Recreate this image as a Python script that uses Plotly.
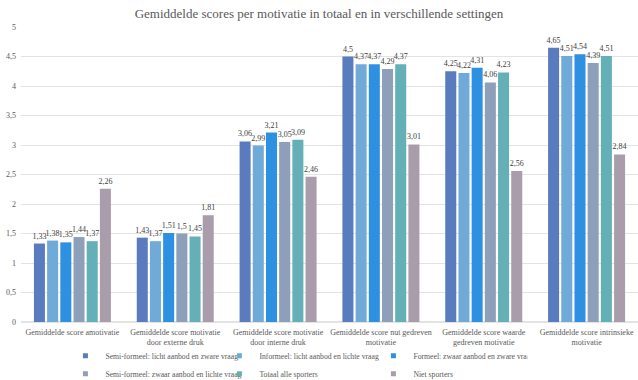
import plotly.graph_objects as go

categories = [
    "Gemiddelde score amotivatie",
    "Gemiddelde score motivatie<br>door externe druk",
    "Gemiddelde score motivatie<br>door interne druk",
    "Gemiddelde score nut gedreven<br>motivatie",
    "Gemiddelde score waarde<br>gedreven motivatie",
    "Gemiddelde score intrinsieke<br>motivatie",
]

series_names = [
    "Semi-formeel: licht aanbod en zware vraag",
    "Informeel: licht aanbod en lichte vraag",
    "Formeel: zwaar aanbod en zware vraag",
    "Semi-formeel: zwaar aanbod en lichte vraag",
    "Totaal alle sporters",
    "Niet sporters",
]

semi_licht_zwaar = [1.33, 1.43, 3.06, 4.5, 4.25, 4.65]
informeel = [1.38, 1.37, 2.99, 4.37, 4.22, 4.51]
formeel = [1.35, 1.51, 3.21, 4.37, 4.31, 4.54]
semi_zwaar_licht = [1.44, 1.5, 3.05, 4.29, 4.06, 4.39]
totaal = [1.37, 1.45, 3.09, 4.37, 4.23, 4.51]
niet_sporters = [2.26, 1.81, 2.46, 3.01, 2.56, 2.84]

series_values = [semi_licht_zwaar, informeel, formeel, semi_zwaar_licht, totaal, niet_sporters]
colors = ["#5a7bbd", "#70aad9", "#2e90e0", "#8e9fb9", "#65afb7", "#a99dab"]

y_ticks = [0, 0.5, 1, 1.5, 2, 2.5, 3, 3.5, 4, 4.5, 5]

FONT = "Liberation Serif"

fig = go.Figure()
for i, (name, vals, col) in enumerate(zip(series_names, series_values, colors)):
    fig.add_trace(go.Bar(
        x=categories, y=vals, name=name,
        marker=dict(color=col, line=dict(width=0)),
        text=[str(v).replace(".", ",") for v in vals],
        textposition="outside",
        constraintext="none",
        cliponaxis=False,
        textfont=dict(family=FONT, size=8, color="#404040"),
        showlegend=False,
    ))

# legend entries (small square swatches like the reference)
for i, (name, col) in enumerate(zip(series_names, colors)):
    fig.add_trace(go.Scatter(
        x=[categories[0]], y=[None], mode="markers", name=name,
        marker=dict(symbol="square", size=5, color=col),
        legend="legend" if i < 3 else "legend2",
        showlegend=True, hoverinfo="skip",
    ))

LEG_FONT = dict(family=FONT, size=7.7, color="#595959")

fig.update_layout(
    width=638, height=380,
    margin=dict(l=21, r=0, t=27, b=58, autoexpand=False),
    paper_bgcolor="white", plot_bgcolor="white",
    barmode="group", bargap=0.23, bargroupgap=0.165,
    title=dict(text="Gemiddelde scores per motivatie in totaal en in verschillende settingen",
               x=0.5, xanchor="center", y=0.965, yanchor="middle",
               font=dict(family=FONT, size=13, color="#595959")),
    font=dict(family=FONT, size=8, color="#595959"),
    xaxis=dict(showgrid=False, ticks="", ticklen=0, showline=False, tickangle=0,
               range=[-0.5, 5.5], ticklabelstandoff=4, automargin=False,
               tickfont=dict(family=FONT, size=8, color="#595959")),
    yaxis=dict(range=[0, 5], tickvals=y_ticks, automargin=False,
               ticktext=[str(t).replace(".", ",") if t % 1 else str(int(t)) for t in y_ticks],
               gridcolor="#e3e3e3", gridwidth=1, zeroline=True, zerolinecolor="#e3e3e3",
               showline=False, ticks="", ticklabelstandoff=4,
               tickfont=dict(family=FONT, size=8, color="#595959")),
    legend=dict(orientation="h", x=0.072, xanchor="left", y=-0.114, yanchor="middle",
                entrywidth=109, itemwidth=30, font=LEG_FONT, bgcolor="rgba(0,0,0,0)"),
    legend2=dict(orientation="h", x=0.072, xanchor="left", y=-0.175, yanchor="middle",
                 entrywidth=109, itemwidth=30, font=LEG_FONT, bgcolor="rgba(0,0,0,0)"),
    showlegend=True,
)

fig.write_html("out.html", config={"displayModeBar": False},
               post_script="document.body.style.margin='0';")
